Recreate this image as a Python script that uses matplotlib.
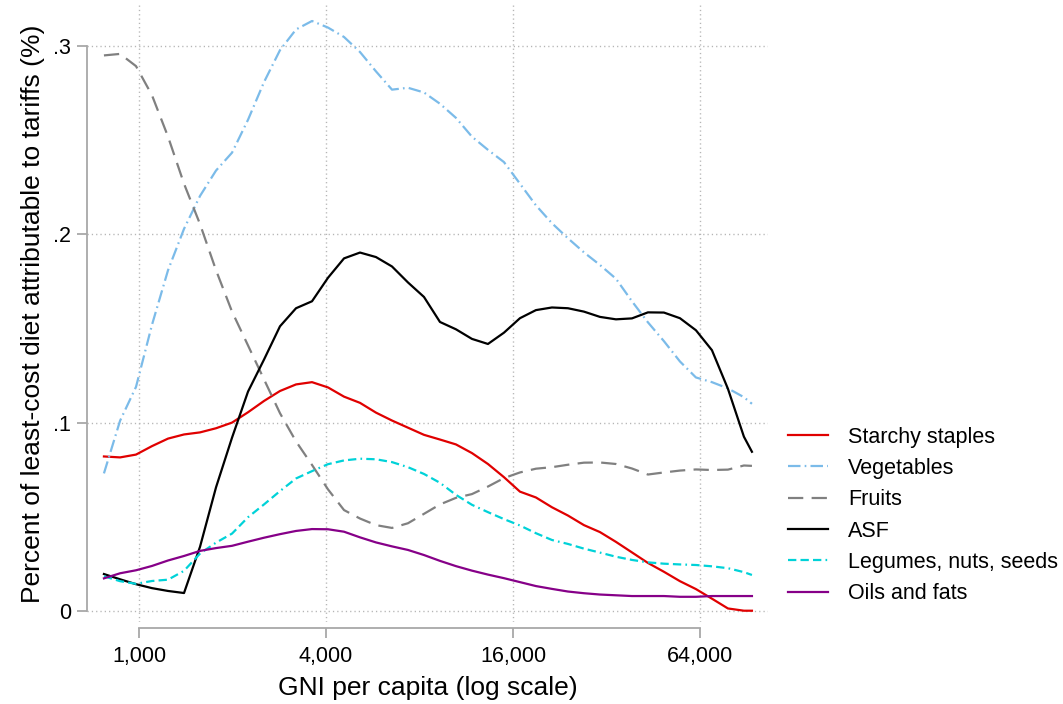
import matplotlib
matplotlib.use("Agg")
import matplotlib.pyplot as plt
from matplotlib.ticker import NullLocator

plt.rcParams['font.family'] = ['Liberation Sans', 'DejaVu Sans']
plt.rcParams['lines.scale_dashes'] = False

# GNI per capita (x, log scale)
gni = [771, 869, 978, 1101, 1240, 1396, 1572, 1770, 1993, 2244, 2526, 2844,
       3203, 3606, 4060, 4572, 5147, 5795, 6525, 7346, 8271, 9312, 10484,
       11804, 13290, 14965, 16850, 18970, 21360, 24050, 27080, 30490, 34330,
       38660, 43520, 49000, 55180, 62120, 69950, 78750, 88670, 94100]

starchy = [0.082, 0.0815, 0.083, 0.0875, 0.0915, 0.0937, 0.0948, 0.097, 0.100,
           0.1055, 0.1115, 0.1168, 0.1203, 0.1215, 0.1187, 0.1138, 0.1105,
           0.1053, 0.1011, 0.0973, 0.0935, 0.091, 0.0884, 0.0838, 0.078,
           0.071, 0.0633, 0.0602, 0.055, 0.0506, 0.0455, 0.0418, 0.0366,
           0.031, 0.0254, 0.0207, 0.0157, 0.0115, 0.0064, 0.0012, 0.0, 0.0]

vegetables = [0.073, 0.101, 0.119, 0.152, 0.181, 0.203, 0.2205, 0.234, 0.2435,
              0.261, 0.281, 0.298, 0.309, 0.3135, 0.310, 0.305, 0.297, 0.2867,
              0.277, 0.278, 0.2755, 0.2695, 0.262, 0.252, 0.245, 0.2385, 0.227,
              0.2155, 0.206, 0.198, 0.1905, 0.1838, 0.1765, 0.1645, 0.1533,
              0.1433, 0.1325, 0.124, 0.1215, 0.1182, 0.1135, 0.110]

fruits = [0.2952, 0.296, 0.2895, 0.274, 0.252, 0.227, 0.2055, 0.181, 0.159,
          0.141, 0.123, 0.105, 0.090, 0.0775, 0.0645, 0.0535, 0.049, 0.0455,
          0.044, 0.0465, 0.0515, 0.0565, 0.060, 0.062, 0.066, 0.0705, 0.0735,
          0.0755, 0.0763, 0.0776, 0.0787, 0.0788, 0.078, 0.0756, 0.0724,
          0.0735, 0.0745, 0.0751, 0.0748, 0.075, 0.0772, 0.077]

asf = [0.0195, 0.0167, 0.0141, 0.012, 0.0105, 0.0094, 0.034, 0.0656, 0.092,
       0.1165, 0.1335, 0.1512, 0.1608, 0.1645, 0.177, 0.1873, 0.1904, 0.188,
       0.183, 0.1745, 0.1668, 0.1535, 0.1496, 0.1445, 0.1418, 0.1478, 0.1555,
       0.1598, 0.1612, 0.1608, 0.159, 0.1562, 0.1549, 0.1554, 0.1586, 0.1585,
       0.1555, 0.1491, 0.1385, 0.118, 0.0925, 0.0845]

legumes = [0.0183, 0.0157, 0.0143, 0.0158, 0.0165, 0.0212, 0.0304, 0.0362,
           0.041, 0.0497, 0.0565, 0.0636, 0.0703, 0.0742, 0.0779, 0.0799,
           0.0808, 0.0805, 0.079, 0.0763, 0.0727, 0.068, 0.0616, 0.0563,
           0.0524, 0.0487, 0.0453, 0.0412, 0.0376, 0.0355, 0.033, 0.0309,
           0.0287, 0.027, 0.0257, 0.025, 0.0246, 0.0243, 0.0236, 0.0226,
           0.0205, 0.019]

oils = [0.0172, 0.0199, 0.0215, 0.0238, 0.0267, 0.0291, 0.0318, 0.0333, 0.0345,
        0.0367, 0.0388, 0.0407, 0.0424, 0.0434, 0.0433, 0.042, 0.039, 0.0363,
        0.0342, 0.0323, 0.0296, 0.0265, 0.0237, 0.0213, 0.0192, 0.0173,
        0.0152, 0.0131, 0.0116, 0.0102, 0.0093, 0.0086, 0.0082, 0.0078,
        0.0078, 0.0078, 0.0074, 0.0074, 0.0078, 0.0078, 0.0078, 0.0078]

xticks = [1000, 4000, 16000, 64000]
xtick_labels = ['1,000', '4,000', '16,000', '64,000']
yticks = [0, 0.1, 0.2, 0.3]
ytick_labels = ['0', '.1', '.2', '.3']

fig = plt.figure(figsize=(10.63, 7.04), dpi=100)
ax = fig.add_axes([87 / 1063, 1 - 622 / 704, (768 - 87) / 1063, (622 - 5) / 704])

ax.plot(gni, starchy, color='#e00000', lw=1.6, label='Starchy staples')
ax.plot(gni, vegetables, color='#7bbbe9', lw=1.6, dashes=(9, 3, 1.2, 3),
        label='Vegetables')
ax.plot(gni, fruits, color='#808080', lw=1.6, dashes=(11, 6), label='Fruits')
ax.plot(gni, asf, color='black', lw=1.6, label='ASF')
ax.plot(gni, legumes, color='#00d2d8', lw=1.6,
        dashes=(6, 3, 6, 3, 6, 3, 1.2, 3), label='Legumes, nuts, seeds')
ax.plot(gni, oils, color='#860088', lw=1.6, label='Oils and fats')

ax.set_xscale('log')
ax.set_xlim(680, 106000)
ax.set_ylim(-0.006, 0.322)
ax.xaxis.set_minor_locator(NullLocator())
ax.set_xticks(xticks, labels=xtick_labels)
ax.set_yticks(yticks, labels=ytick_labels)

ax.grid(True, color='#b5b5b5', linestyle=(0, (0.9, 2.2)), linewidth=1.0)
for s in ['top', 'right']:
    ax.spines[s].set_visible(False)
ax.spines['left'].set_bounds(0, 0.3)
ax.spines['bottom'].set_bounds(1000, 64000)
ax.spines['bottom'].set_position(('outward', 4))
for s in ['left', 'bottom']:
    ax.spines[s].set_color('#a8a8a8')
    ax.spines[s].set_linewidth(1.3)
ax.tick_params(axis='both', colors='#a8a8a8', length=7.5, width=1.3,
               labelsize=15.5, labelcolor='black', pad=4)
ax.tick_params(axis='x', pad=6)

ax.set_xlabel('GNI per capita (log scale)', fontsize=19, labelpad=6)
ax.set_ylabel('Percent of least-cost diet attributable to tariffs (%)',
              fontsize=19, labelpad=6)

fig.legend(loc='center left', bbox_to_anchor=(788 / 1063, 1 - 515.5 / 704),
           frameon=False, fontsize=15.5, handlelength=1.85, handletextpad=0.95,
           labelspacing=0.48, borderpad=0, borderaxespad=0)

fig.savefig('out.png', dpi=100)
